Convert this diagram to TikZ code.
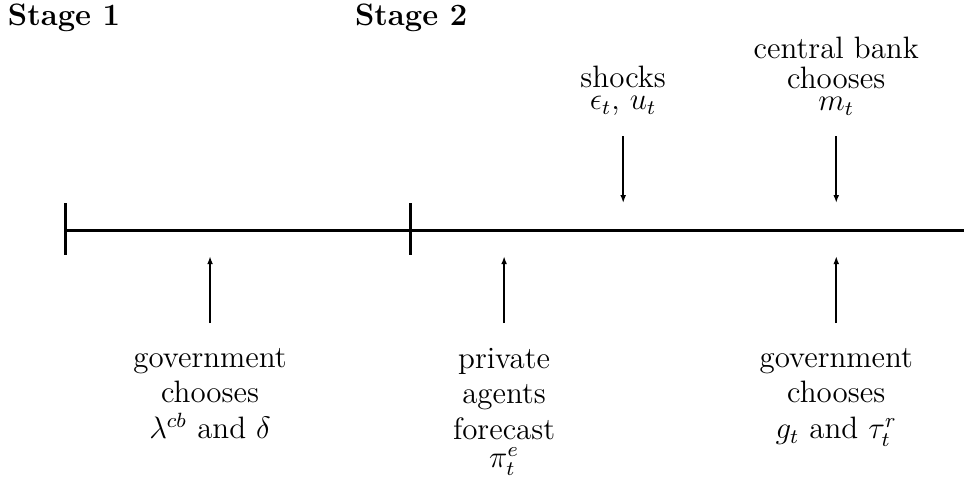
\documentclass[tikz,border=0pt,12pt]{standalone}
\usetikzlibrary{arrows.meta}
\tikzset{
  timeline/.style={line width=1.2pt, draw=black, line cap=butt},
  stagetick/.style={line width=1.2pt, draw=black, line cap=butt},
  evarrow/.style={line width=0.7pt, draw=black, -{Latex[length=1.1mm,width=0.8mm]}},
  stagelabel/.style={font=\bfseries, anchor=base, inner sep=0pt},
  eventabove/.style={align=center, anchor=south, inner sep=0pt, font=\fontsize{12}{11.6}\selectfont},
  eventbelow/.style={align=center, anchor=north, inner sep=0pt, font=\fontsize{12}{13.8}\selectfont},
}

\begin{document}
\begin{tikzpicture}
\useasboundingbox (0,0) rectangle (13.130,6.540);
\coordinate (tlstart) at (0.886,3.406);
\coordinate (tlend) at (13.130,3.406);
\draw[timeline] (tlstart) -- (tlend);
\coordinate (tickonetop) at (0.886,3.774);
\coordinate (tickonebot) at (0.886,3.065);
\coordinate (ticktwotop) at (5.586,3.774);
\coordinate (ticktwobot) at (5.586,3.065);
\draw[stagetick] (tickonetop) -- (tickonebot);
\draw[stagetick] (ticktwotop) -- (ticktwobot);
\node[stagelabel] (stageone) at (0.872,6.199) {Stage 1};
\node[stagelabel] (stagetwo) at (5.600,6.199) {Stage 2};
\node[eventabove] (shocks) at (8.488,4.960) {shocks\\[-3pt]$\epsilon_t$, $u_t$};
\node[eventabove] (cbchooses) at (11.390,4.960) {central bank\\chooses\\[-3pt]$m_t$};
\coordinate (shockstail) at (8.488,4.687);
\coordinate (shockstip) at (8.488,3.774);
\coordinate (cbtail) at (11.390,4.687);
\coordinate (cbtip) at (11.390,3.774);
\draw[evarrow] (shockstail) -- (shockstip);
\draw[evarrow] (cbtail) -- (cbtip);
\node[eventbelow] (govone) at (2.861,1.805) {government\\chooses\\$\lambda^{cb}$ and $\delta$};
\node[eventbelow] (private) at (6.866,1.805) {private\\agents\\forecast\\[-3pt]$\pi^e_t$};
\node[eventbelow] (govtwo) at (11.390,1.805) {government\\chooses\\$g_t$ and $\tau^r_t$};
\coordinate (govonetail) at (2.861,2.139);
\coordinate (govonetip) at (2.861,3.052);
\coordinate (privatetail) at (6.866,2.139);
\coordinate (privatetip) at (6.866,3.052);
\coordinate (govtwotail) at (11.390,2.139);
\coordinate (govtwotip) at (11.390,3.052);
\draw[evarrow] (govonetail) -- (govonetip);
\draw[evarrow] (privatetail) -- (privatetip);
\draw[evarrow] (govtwotail) -- (govtwotip);
\end{tikzpicture}
\end{document}
